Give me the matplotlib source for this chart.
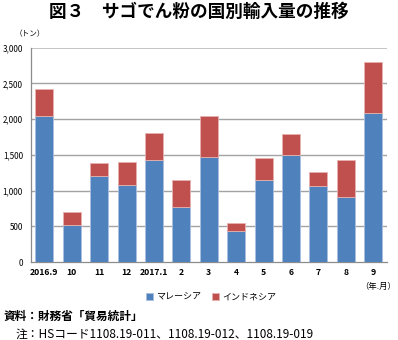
import matplotlib

matplotlib.use("Agg")
import matplotlib.pyplot as plt

plt.rcParams["font.family"] = ["Noto Sans CJK JP", "DejaVu Sans"]

months = ["2016.9", "10", "11", "12", "2017.1", "2", "3", "4", "5", "6", "7", "8", "9"]
malaysia = [2050, 515, 1200, 1080, 1430, 770, 1465, 435, 1155, 1495, 1065, 905, 2090]
indonesia = [375, 185, 185, 320, 375, 385, 575, 115, 295, 295, 195, 525, 710]

BLUE = "#4f81bd"
RED = "#c0504d"

fig = plt.figure(figsize=(3.98, 3.40), dpi=100)
fig.text(0.5, 0.965, "図３　サゴでん粉の国別輸入量の推移", ha="center", va="center",
         fontsize=12.7, fontweight="bold")

ax = fig.add_axes([0.077, 0.229, 0.895, 0.631])
x = range(len(months))
ax.bar(x, malaysia, width=0.66, color=BLUE, edgecolor="#a9c0e0", linewidth=0.6,
       zorder=3, label="マレーシア")
ax.bar(x, indonesia, width=0.66, bottom=malaysia, color=RED, edgecolor="#e6b1ae",
       linewidth=0.6, zorder=3, label="インドネシア")

ax.set_xlim(-0.5, len(months) - 0.5)
ax.set_ylim(0, 3000)
ax.set_yticks(range(0, 3001, 500))
ax.set_yticklabels([f"{v:,}" for v in range(0, 3001, 500)], fontsize=5.8)
ax.set_xticks(list(x))
ax.set_xticklabels(months, fontsize=6.2, fontweight="bold")
ax.tick_params(length=0, pad=4)
ax.tick_params(axis="y", pad=5.5)
for v in range(500, 3001, 500):
    ax.axhline(v, color="#c4c4c4" if v == 3000 else "#a3a3a3",
               linewidth=1.4 if v == 3000 else 1.0, zorder=1)
for side in ("top", "right"):
    ax.spines[side].set_visible(False)
for side in ("left", "bottom"):
    ax.spines[side].set_color("#8c8c8c")
    ax.spines[side].set_linewidth(0.9)

fig.text(0.075, 0.9, "（トン）", ha="center", va="center", fontsize=5.5)
fig.text(0.995, 0.158, "（年.月）", ha="right", va="center", fontsize=6)

fig.legend(loc="center", bbox_to_anchor=(0.53, 0.127), ncol=2, frameon=False,
           fontsize=6.5, handlelength=0.8, handleheight=0.8, handletextpad=0.3,
           columnspacing=1.2)

fig.text(0.008, 0.068, "資料：財務省「貿易統計」", ha="left", va="center",
         fontsize=8.4, fontweight="bold")
fig.text(0.038, 0.016, "注：HSコード1108.19-011、1108.19-012、1108.19-019",
         ha="left", va="center", fontsize=8.5)

fig.savefig("out.png", dpi=100)
